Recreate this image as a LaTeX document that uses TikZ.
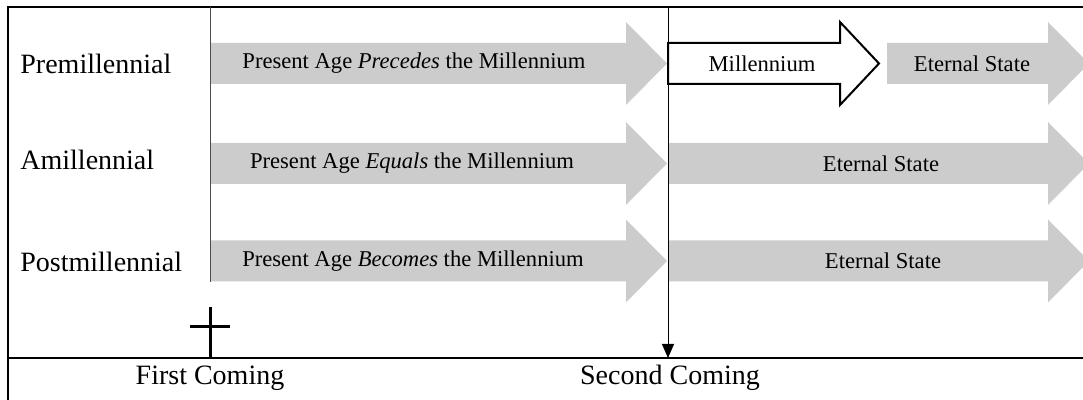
\documentclass[tikz,border=0pt]{standalone}
\usepackage{fontspec}
\setmainfont{Liberation Serif}
\usetikzlibrary{arrows.meta}
\definecolor{bandgray}{RGB}{205,204,205}
\tikzset{
  band/.style={fill=bandgray,draw=none},
  openband/.style={fill=white,draw=black,line width=1pt},
  rowlabel/.style={anchor=west,inner sep=0pt,font=\fontsize{14}{16}\selectfont},
  bandtext/.style={inner sep=0pt,font=\fontsize{11.3}{13}\selectfont},
  cometext/.style={inner sep=0pt,font=\fontsize{14}{16}\selectfont},
  frame/.style={line width=1.3pt}
}
% fat arrow: [style] start x, head x, tip x, middle y
\newcommand{\fatarrow}[5][band]{%
  \path[#1] (#2,#5-20.5) -- (#3,#5-20.5) -- (#3,#5-41.5) -- (#4,#5)
    -- (#3,#5+41.5) -- (#3,#5+20.5) -- (#2,#5+20.5) -- cycle;}
\begin{document}
\begin{tikzpicture}[x=0.5pt,y=-0.5pt]
  \useasboundingbox (0,0) rectangle (1083,400);
  % bands
  \fatarrow{210}{626}{667}{63.5}
  \fatarrow{210}{626}{667}{163.5}
  \fatarrow{210}{626}{667}{261}
  \fatarrow[openband]{668}{840}{879}{63.5}
  \fatarrow{887}{1048}{1089}{63.5}
  \fatarrow{668}{1048}{1089}{163.5}
  \fatarrow{668}{1048}{1089}{261}
  % row labels
  \node[rowlabel] (pre) at (20,63.5) {Premillennial};
  \node[rowlabel] (ami) at (20,160) {Amillennial};
  \node[rowlabel] (post) at (20,262) {Postmillennial};
  % band texts
  \node[bandtext] (preage) at (414,63.5) {Present Age \textit{Precedes} the Millennium};
  \node[bandtext] (mill) at (762,63.5) {Millennium};
  \node[bandtext] (preeternal) at (972,63.5) {Eternal State};
  \node[bandtext] (amiage) at (412,163.5) {Present Age \textit{Equals} the Millennium};
  \node[bandtext] (amieternal) at (881,163.5) {Eternal State};
  \node[bandtext] (postage) at (413,261) {Present Age \textit{Becomes} the Millennium};
  \node[bandtext] (posteternal) at (883,261) {Eternal State};
  % frame
  \coordinate (topleft) at (8,7);
  \coordinate (topright) at (1083,7);
  \coordinate (botleft) at (8,400);
  \coordinate (sepleft) at (8,358);
  \coordinate (sepright) at (1083,358);
  \draw[frame] (topright) -- (topleft) -- (botleft);
  \draw[frame] (sepleft) -- (sepright);
  % comings
  \coordinate (firsttop) at (210,7);
  \coordinate (firstend) at (210,282);
  \coordinate (secondtop) at (668,7);
  \coordinate (secondend) at (668,358);
  \draw[black!70,line width=0.5pt] (firsttop) -- (firstend);
  \draw[line width=0.5pt,-{Triangle[length=7pt,width=6pt]}] (secondtop) -- (secondend);
  \draw[line width=1.5pt] (210,307) -- (210,358) (190,327) -- (230,327);
  \node[cometext] (first) at (210,378) {First Coming};
  \node[cometext] (second) at (670,378) {Second Coming};
\end{tikzpicture}
\end{document}
